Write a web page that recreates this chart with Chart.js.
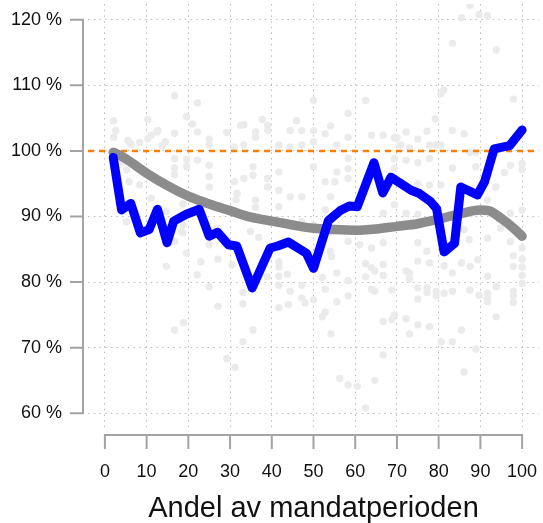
<!DOCTYPE html>
<html><head><meta charset="utf-8">
<script src="https://cdn.jsdelivr.net/npm/chart.js@4.4.0/dist/chart.umd.min.js"></script>
<style>html,body{margin:0;padding:0;background:#fff;overflow:hidden;}canvas{display:block;}</style>
</head><body>
<canvas id="c" width="543" height="523" style="width:543px;height:523px"></canvas>
<script>
// ---- data ----
const xTicks = [0,10,20,30,40,50,60,70,80,90,100];
const yTicks = [60,70,80,90,100,110,120];
const xRange = [-4.05, 104.05];
const yRange = [57.6, 122.4];
const refValue = 100;

const blueX = [2,4,6.2,8.5,10.6,12.6,14.9,16.5,19.4,22.6,25,27,29.6,31.6,35.3,39.6,41.4,44,48.3,50,53.6,56.4,58.6,60.5,64.5,66.6,68.6,73.4,75.4,78,79.5,81.3,83.8,85.3,89.3,91,93.3,97,100];
const blueY = [99,91,92,87.5,88,91.1,86,89.3,90.3,91.1,87,87.6,85.7,85.5,79.1,85.2,85.5,86.1,84.4,82.1,89.4,90.9,91.6,91.5,98.2,93.6,96,94,93.5,92.3,91.2,84.6,85.9,94.5,93.3,95.3,100.3,100.8,103.2];

const grayX = [2,5,10,15,20,25,30,35,40,45,50,55,60,65,70,75,80,85,90,92,95,98,100];
const grayY = [99.8,98.8,96.6,94.7,93.1,91.9,90.9,89.9,89.3,88.7,88.2,88.0,87.9,88.1,88.5,88.9,89.6,90.4,91.0,90.9,89.7,88.2,87.0];

const dotX = [2.1,2.6,2.1,10.3,11.1,12.5,16.7,19.6,21,5.8,6.3,8.3,14.5,13.7,22.2,25,25,29.2,32.5,31,16.7,22.2,10.3,5.5,12.7,
4.4,5.2,5.8,8.3,11.1,16.7,16.7,16.7,19.6,22.2,19.6,25,25,25,31,31.7,31.4,18.3,19.6,25,26.2,27,5.2,8.3,16.7,14.7,18.7,18.7,18.7,16.7,
14.7,23,27.1,30.5,22.1,25,27.1,33.1,33.1,18.8,16.7,33.1,29.2,31.2,35.5,
41.7,41.7,41.7,41.7,43.7,38.9,44.4,41.7,44,47.2,47.2,48,50,52.1,52.8,52.8,52.1,55.6,55.6,54.2,58.3,58.3,54.3,62.5,63.9,64.7,62.5,63.9,64.7,66.7,66.7,66.7,66.7,56.3,58.3,60.5,64.7,62.5,
75,77.8,81.3,85.5,87.5,83.3,72.2,73,73,68.8,75,77.2,77.2,79.4,79.4,81.3,83.3,75,87.5,89.7,91.7,91.7,91.7,93.8,91.7,89.4,97.9,97.9,97.9,97.9,97.9,100,100,100,100,69.4,68.8,72.2,75,77.8,73,85.5,93.8,80.6,83.3,88.9,86.1,
50,62.5,58.3,33.3,37.7,39,39,36.1,36.1,44.4,45.9,47.2,50,50,52.8,54.1,58.3,63.9,41.7,44.4,47.2,55.6,33.3,66.7,70,
35.5,35.5,33.3,39,39,41.7,44.4,47.2,50,52.8,54.1,55.6,58.3,58.3,36.1,36.1,41.7,52.8,47.2,50,34.9,36.9,58.3,61.1,63.9,66.7,66.7,54,58.3,72.2,55.1,41.7,
87.5,85.5,89.7,91.7,83.3,93.8,81.2,80.5,97.9,79.2,72.2,77.2,83.3,86.1,69.4,75,70.9,73,77.8,79.4,80.5,87.5,88.9,69.4,75,77.8,83.3,88.9,97.2,100,100,95.8,69.4,75,77.8,80.5,93.7,91.7,69.4,72.2,75,97.2,100,69.4,75,77.2,86.1,87.3,91.7,94.8,97.2,100];
const dotY = [104.6,103.1,102.1,104.8,102.4,102.9,102.7,105.2,104.1,101.4,101,101.3,101.4,100.8,102.9,101.8,100.9,102.8,103.9,100.6,108.4,107.3,101.9,101.6,103.1,
98.3,97.1,95.3,94.8,92.8,98.8,97.4,96.4,98.7,98.6,97.6,97.8,96.1,94.5,95.3,93.5,92.5,87.7,84.4,85.7,87.2,88.2,89.2,88.2,94,90.8,91.9,88.7,87.5,86.2,
82.4,83.1,83.5,82.6,81.1,79.3,76.3,78.4,76.7,73.8,72.7,70.9,68.3,67,72.7,
83.1,82.3,80.9,79.5,81.2,80.8,78.6,76.1,76.6,79.5,77.6,76.8,77.3,80.7,78.9,75.4,74.7,81.4,77,72.1,80.2,77.9,83.9,82.8,82.2,81.7,80.8,78.9,78.6,82.7,81,74,68.9,65.3,64.3,64.1,65,60.8,
83.2,82.9,82.5,82.9,82.4,81.4,81.7,81.4,80.5,78.8,79.1,79.1,78.4,78.6,77.9,78.3,78.6,77.4,78.8,78,78.3,77.5,77,79.3,80.9,83.4,84,82.4,78.6,77.9,76.9,83.5,82.3,81,79.8,75,74.3,74.4,73.5,73.2,72.1,72.7,74.7,70.9,70.9,69.8,66.3,
107.7,107.7,105.7,104,104.8,103.9,103.1,102.9,102.1,103.1,104.6,103.1,103.1,101.4,102.6,103.8,102.1,102.4,100.9,100.6,100.9,100.9,100.9,102.4,102,
97.6,96.3,95.8,95.8,94.5,94,93,93,97.6,95.3,93,96.8,95.8,98.9,92.5,91.4,91.5,91,89.2,88.7,87.7,86.8,86.2,85.7,85.2,86,90.5,84.7,97.3,98.6,95.3,96.8,
122.2,120.3,120.8,120.6,116.4,115.4,109.3,108.7,107.9,104.9,102.9,103,103.1,102.6,102,101.8,100.9,100.5,100.9,100.9,100.9,99.8,99.8,98.8,98.2,98.8,97.4,97.6,97.8,98.1,97.2,96.7,97.3,95,94.8,94.8,94.5,92.5,91.8,90.5,90.3,90.5,91,88.2,86,84.7,88,86.5,86.7,88.2,86.2,85.2];

// ---- chart ----
const FONT = 'Liberation Sans, Arial, Helvetica, sans-serif';
const AXIS = '#a3a3a3';

const axisPlugin = {
  id: 'rAxes',
  afterDraw(chart) {
    const ctx = chart.ctx, xs = chart.scales.x, ys = chart.scales.y, ca = chart.chartArea;
    ctx.save();
    ctx.strokeStyle = AXIS; ctx.lineWidth = 2; ctx.lineCap = 'butt';
    // y axis
    const ax = ca.left - 5;
    const y0 = ys.getPixelForValue(yTicks[0]), y1 = ys.getPixelForValue(yTicks[yTicks.length-1]);
    ctx.beginPath(); ctx.moveTo(ax, y0 + 1); ctx.lineTo(ax, y1 - 1);
    yTicks.forEach(v => { const p = ys.getPixelForValue(v); ctx.moveTo(ax, p); ctx.lineTo(ax - 13, p); });
    ctx.stroke();
    // x axis
    const ay = ca.bottom + 6;
    const x0 = xs.getPixelForValue(xTicks[0]), x1 = xs.getPixelForValue(xTicks[xTicks.length-1]);
    ctx.beginPath(); ctx.moveTo(x0 - 1, ay); ctx.lineTo(x1 + 1, ay);
    xTicks.forEach(v => { const p = xs.getPixelForValue(v); ctx.moveTo(p, ay); ctx.lineTo(p, ay + 14); });
    ctx.stroke();
    ctx.restore();
  }
};

new Chart(document.getElementById('c'), {
  type: 'line',
  data: {
    datasets: [
      { label: 'blue', data: blueX.map((x,i)=>({x, y: blueY[i]})), borderColor: '#0000ff', borderWidth: 9,
        pointRadius: 0, tension: 0, borderCapStyle: 'round', borderJoinStyle: 'round', fill: false, order: 0 },
      { label: 'gray', data: grayX.map((x,i)=>({x, y: grayY[i]})), borderColor: '#8c8c8c', borderWidth: 9.5,
        pointRadius: 0, cubicInterpolationMode: 'monotone', borderCapStyle: 'round', borderJoinStyle: 'round', fill: false, order: 1 },
      { label: 'ref', data: xRange.map(x=>({x, y: refValue})), borderColor: '#ff8000', borderWidth: 2.5,
        borderDash: [6,5], pointRadius: 0, fill: false, order: 2 },
      { label: 'dots', data: dotX.map((x,i)=>({x, y: dotY[i]})), showLine: false, pointRadius: 3.7,
        pointBackgroundColor: '#ebebeb', pointBorderWidth: 0, pointBorderColor: '#ebebeb', order: 3 }
    ]
  },
  options: {
    responsive: false, animation: false, devicePixelRatio: 1,
    layout: { padding: { top: 1.2, right: 1.2, left: 0, bottom: 0 } },
    plugins: { legend: { display: false }, tooltip: { enabled: false } },
    scales: {
      x: {
        type: 'linear', min: xRange[0], max: xRange[1],
        afterBuildTicks: s => { s.ticks = xTicks.map(v => ({ value: v })); },
        afterFit: s => { s.height = 94; s.paddingLeft = 0; s.paddingRight = 0; },
        grid: { color: '#bdbdbd', lineWidth: 1, drawTicks: false },
        border: { display: false, dash: [1.5, 4.2] },
        ticks: { padding: 32, autoSkip: false, maxRotation: 0, color: '#111', font: { family: FONT, size: 18 } },
        title: { display: true, text: 'Andel av mandatperioden', color: '#111', padding: { top: 0, bottom: 0 },
                 font: { family: FONT, size: 29, lineHeight: 1.0 } }
      },
      y: {
        type: 'linear', min: yRange[0], max: yRange[1],
        afterBuildTicks: s => { s.ticks = yTicks.map(v => ({ value: v })); },
        afterFit: s => { s.width = 88; s.paddingTop = 0; s.paddingBottom = 0; },
        grid: { color: '#bdbdbd', lineWidth: 1, drawTicks: false },
        border: { display: false, dash: [1.5, 4.2] },
        ticks: { padding: 26, color: '#111', font: { family: FONT, size: 18 }, callback: v => v + ' %' }
      }
    }
  },
  plugins: [axisPlugin]
});
</script>
</body></html>
